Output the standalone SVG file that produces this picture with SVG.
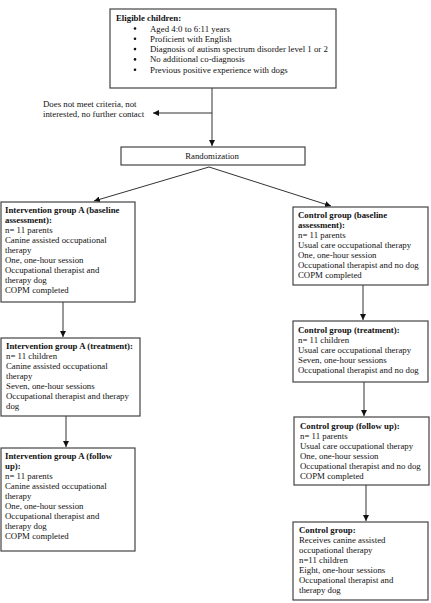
<svg xmlns="http://www.w3.org/2000/svg" width="431" height="603" viewBox="0 0 431 603">
<style>
text{font-family:"Liberation Serif","Times New Roman",serif;font-size:8.8px;fill:#111}
.b{font-weight:bold}
.box{fill:#fff;stroke:#444;stroke-width:1.2}
.ln{fill:none;stroke:#333;stroke-width:1}
</style>
<defs>
<marker id="ah" viewBox="0 0 10 10" refX="10" refY="5" markerWidth="6" markerHeight="6" markerUnits="userSpaceOnUse" orient="auto">
<path d="M0,0 L10,5 L0,10 z" fill="#111"/>
</marker>
</defs>
<rect width="431" height="603" fill="#fff"/>
<g id="connectors">
<line class="ln" x1="212" y1="88" x2="212" y2="146" marker-end="url(#ah)"/>
<line class="ln" x1="212" y1="113" x2="153" y2="113" marker-end="url(#ah)"/>
<line class="ln" x1="209" y1="167" x2="94" y2="201" marker-end="url(#ah)"/>
<line class="ln" x1="209" y1="167" x2="331" y2="206" marker-end="url(#ah)"/>
<line class="ln" x1="63" y1="302" x2="63" y2="337" marker-end="url(#ah)"/>
<line class="ln" x1="66" y1="416" x2="66" y2="447" marker-end="url(#ah)"/>
<line class="ln" x1="363" y1="285" x2="363" y2="320" marker-end="url(#ah)"/>
<line class="ln" x1="364" y1="382" x2="364" y2="416" marker-end="url(#ah)"/>
<line class="ln" x1="366" y1="485" x2="366" y2="521" marker-end="url(#ah)"/>
</g>
<g id="eligible">
<rect class="box" x="110" y="9" width="226" height="79"/>
<text class="b" x="116" y="21">Eligible children:</text>
<g>
<circle cx="135" cy="28.5" r="1.3" fill="#111"/>
<circle cx="135" cy="38.8" r="1.3" fill="#111"/>
<circle cx="135" cy="49.1" r="1.3" fill="#111"/>
<circle cx="135" cy="59.4" r="1.3" fill="#111"/>
<circle cx="135" cy="69.7" r="1.3" fill="#111"/>
</g>
<text x="150" y="31.5">Aged 4:0 to 6:11 years</text>
<text x="150" y="41.8">Proficient with English</text>
<text x="150" y="52.1">Diagnosis of autism spectrum disorder level 1 or 2</text>
<text x="150" y="62.4">No additional co-diagnosis</text>
<text x="150" y="72.7">Previous positive experience with dogs</text>
</g>
<g id="excluded">
<text x="43" y="107">Does not meet criteria, not</text>
<text x="43" y="117">interested, no further contact</text>
</g>
<g id="randomization">
<rect class="box" x="121" y="147" width="184" height="18"/>
<text x="212" y="159" text-anchor="middle">Randomization</text>
</g>
<g id="int-baseline">
<rect class="box" x="1" y="202" width="134" height="100"/>
<text class="b" x="5" y="213">Intervention group A (baseline</text>
<text class="b" x="5" y="223">assessment):</text>
<text x="5" y="233">n= 11 parents</text>
<text x="5" y="243">Canine assisted occupational</text>
<text x="5" y="253">therapy</text>
<text x="5" y="263">One, one-hour session</text>
<text x="5" y="273">Occupational therapist and</text>
<text x="5" y="283">therapy dog</text>
<text x="5" y="293">COPM completed</text>
</g>
<g id="int-treatment">
<rect class="box" x="1" y="338" width="139" height="78"/>
<text class="b" x="6" y="349">Intervention group A (treatment):</text>
<text x="6" y="359">n= 11 children</text>
<text x="6" y="369">Canine assisted occupational</text>
<text x="6" y="379">therapy</text>
<text x="6" y="389">Seven, one-hour sessions</text>
<text x="6" y="399">Occupational therapist and therapy</text>
<text x="6" y="409">dog</text>
</g>
<g id="int-follow">
<rect class="box" x="1" y="448" width="134" height="103"/>
<text class="b" x="5" y="459">Intervention group A (follow</text>
<text class="b" x="5" y="469">up):</text>
<text x="5" y="479">n= 11 parents</text>
<text x="5" y="489">Canine assisted occupational</text>
<text x="5" y="499">therapy</text>
<text x="5" y="509">One, one-hour session</text>
<text x="5" y="519">Occupational therapist and</text>
<text x="5" y="529">therapy dog</text>
<text x="5" y="539">COPM completed</text>
</g>
<g id="ctl-baseline">
<rect class="box" x="293" y="207" width="135" height="78"/>
<text class="b" x="298" y="218">Control group (baseline</text>
<text class="b" x="298" y="228">assessment):</text>
<text x="298" y="238">n= 11 parents</text>
<text x="298" y="248">Usual care occupational therapy</text>
<text x="298" y="258">One, one-hour session</text>
<text x="298" y="268">Occupational therapist and no dog</text>
<text x="298" y="278">COPM completed</text>
</g>
<g id="ctl-treatment">
<rect class="box" x="293" y="321" width="135" height="61"/>
<text class="b" x="298" y="333">Control group (treatment):</text>
<text x="298" y="343">n= 11 children</text>
<text x="298" y="353">Usual care occupational therapy</text>
<text x="298" y="363">Seven, one-hour sessions</text>
<text x="298" y="373">Occupational therapist and no dog</text>
</g>
<g id="ctl-follow">
<rect class="box" x="294" y="417" width="135" height="68"/>
<text class="b" x="300" y="429">Control group (follow up):</text>
<text x="300" y="439">n= 11 parents</text>
<text x="300" y="449">Usual care occupational therapy</text>
<text x="300" y="459">One, one-hour session</text>
<text x="300" y="469">Occupational therapist and no dog</text>
<text x="300" y="479">COPM completed</text>
</g>
<g id="ctl-final">
<rect class="box" x="293" y="522" width="135" height="78"/>
<text class="b" x="299" y="533">Control group:</text>
<text x="299" y="543">Receives canine assisted</text>
<text x="299" y="553">occupational therapy</text>
<text x="299" y="563">n=11 children</text>
<text x="299" y="573">Eight, one-hour sessions</text>
<text x="299" y="583">Occupational therapist and</text>
<text x="299" y="593">therapy dog</text>
</g>
</svg>
